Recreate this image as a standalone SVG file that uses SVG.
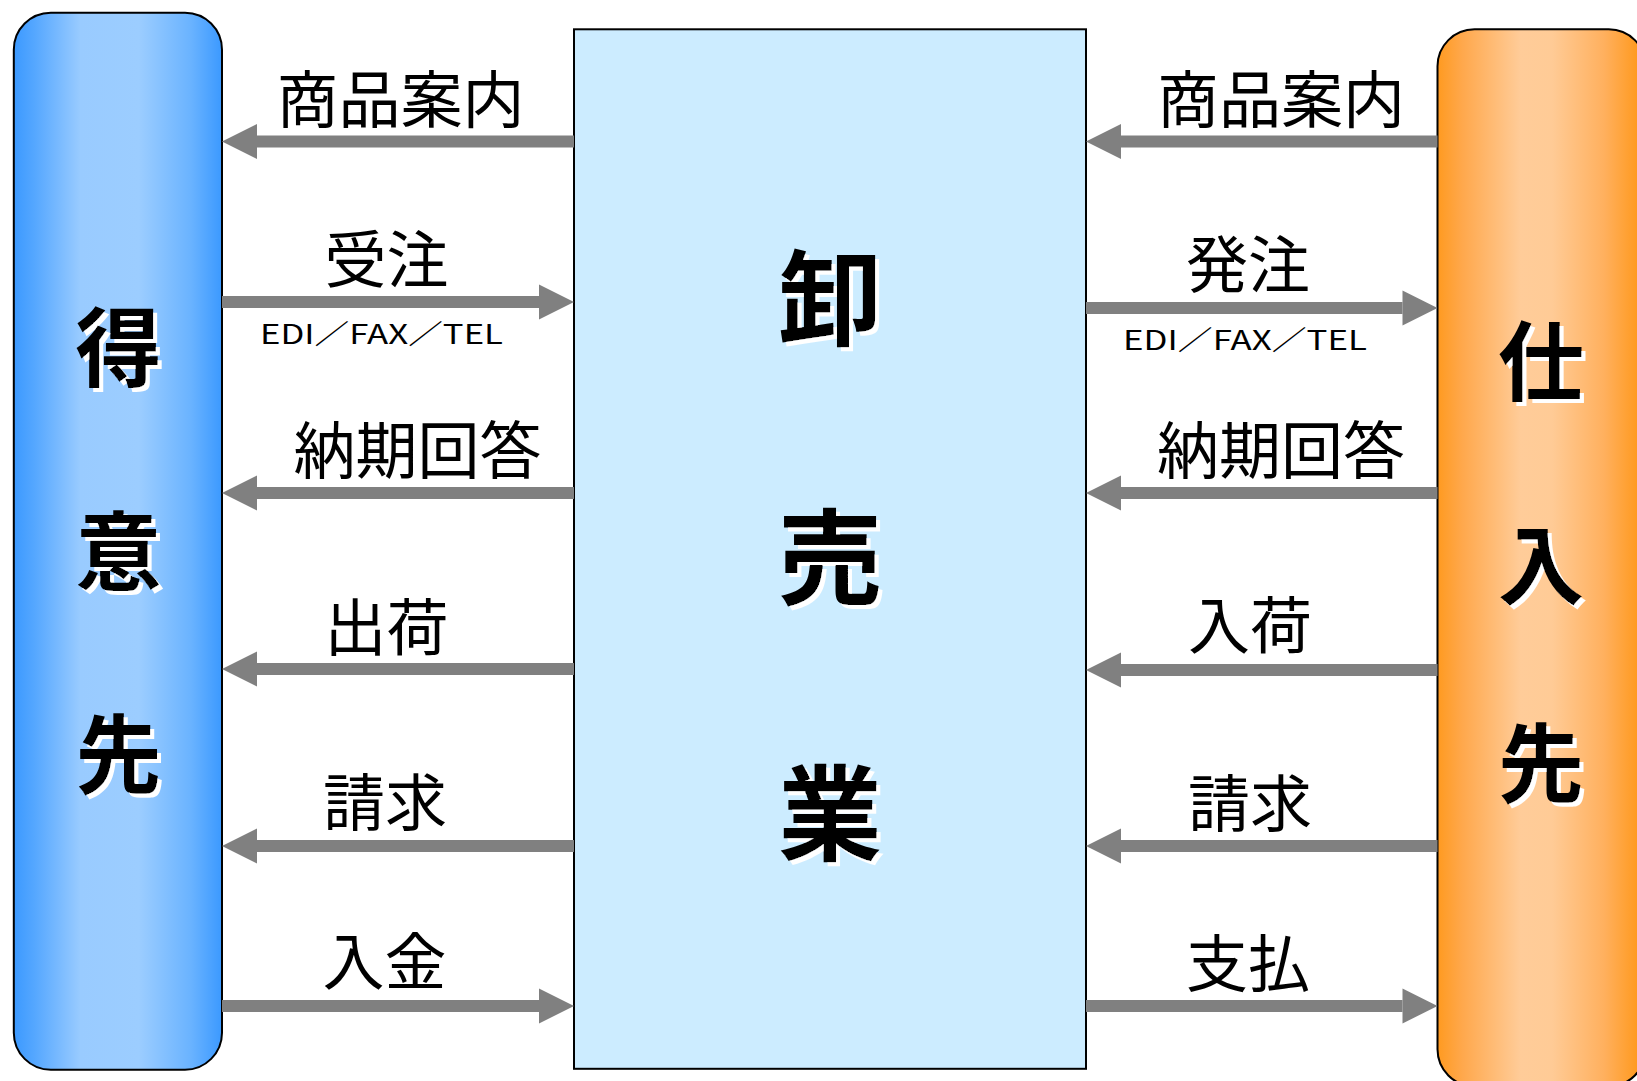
<svg xmlns="http://www.w3.org/2000/svg" width="1637" height="1081" viewBox="0 0 1637 1081">
  <style>
    .node { stroke: #000; stroke-width: 2; }
    .lbl { font-family: "Noto Sans CJK JP", "Liberation Sans", sans-serif; font-size: 62px; fill: #000; text-anchor: middle; }
    .sub { font-family: "Noto Sans CJK JP", "Liberation Sans", sans-serif; font-size: 27px; fill: #000; text-anchor: middle; }
    .big { font-family: "Noto Sans CJK JP", "Liberation Sans", sans-serif; font-size: 86px; font-weight: bold; text-anchor: middle; fill: #000; filter: url(#wshadow); }
    .huge { font-size: 104px; }
    .conn line { stroke: #808080; stroke-width: 12; }
  </style>
  <defs>
    <filter id="wshadow" x="-20%" y="-20%" width="140%" height="140%">
      <feOffset in="SourceAlpha" dx="3.5" dy="3.5" result="off"/>
      <feFlood flood-color="#ffffff" result="white"/>
      <feComposite in="white" in2="off" operator="in" result="shadow"/>
      <feMerge>
        <feMergeNode in="shadow"/>
        <feMergeNode in="SourceGraphic"/>
      </feMerge>
    </filter>
    <linearGradient id="gBlue" x1="0" y1="0" x2="1" y2="0">
      <stop offset="0" stop-color="#3b99ff"/>
      <stop offset="0.1" stop-color="#55a7ff"/>
      <stop offset="0.32" stop-color="#99cbff"/>
      <stop offset="0.6" stop-color="#9ccdff"/>
      <stop offset="0.85" stop-color="#6ab3ff"/>
      <stop offset="1" stop-color="#3b99ff"/>
    </linearGradient>
    <linearGradient id="gOrange" x1="0" y1="0" x2="1" y2="0">
      <stop offset="0" stop-color="#ff9a20"/>
      <stop offset="0.12" stop-color="#ffa84c"/>
      <stop offset="0.4" stop-color="#ffcc99"/>
      <stop offset="0.55" stop-color="#ffcb96"/>
      <stop offset="0.8" stop-color="#ffb05e"/>
      <stop offset="0.96" stop-color="#ff9a20"/>
      <stop offset="1" stop-color="#ff9a20"/>
    </linearGradient>
    <marker id="ah" markerUnits="userSpaceOnUse" markerWidth="36" markerHeight="36" refX="0" refY="17.5" orient="auto" overflow="visible">
      <path d="M0,0 L35,17.5 L0,35 Z" fill="#808080"/>
    </marker>
  </defs>

  <g id="node-tokuisaki">
    <rect class="node" x="13.8" y="12.7" width="208.2" height="1057" rx="37" ry="37" fill="url(#gBlue)"/>
    <text class="big" x="118.5" y="380">得</text>
    <text class="big" x="118.5" y="584">意</text>
    <text class="big" x="118.5" y="787">先</text>
  </g>

  <g id="node-oroshiuri">
    <rect class="node" x="574" y="29.3" width="512" height="1039.5" fill="#ccecff" stroke-width="1.8"/>
    <text class="big huge" x="830" y="338">卸</text>
    <text class="big huge" x="830" y="597">売</text>
    <text class="big huge" x="830" y="853">業</text>
  </g>

  <g id="node-shiiresaki">
    <rect class="node" x="1437.5" y="29.3" width="208.2" height="1057" rx="37" ry="37" fill="url(#gOrange)"/>
    <text class="big" x="1541" y="394">仕</text>
    <text class="big" x="1541" y="598">入</text>
    <text class="big" x="1541" y="796">先</text>
  </g>

  <g id="connectors" class="conn">
    <line x1="574" y1="141.5" x2="257" y2="141.5" marker-end="url(#ah)"/>
    <line x1="222" y1="302" x2="539" y2="302" marker-end="url(#ah)"/>
    <line x1="574" y1="493" x2="257" y2="493" marker-end="url(#ah)"/>
    <line x1="574" y1="669" x2="257" y2="669" marker-end="url(#ah)"/>
    <line x1="574" y1="846" x2="257" y2="846" marker-end="url(#ah)"/>
    <line x1="222" y1="1006" x2="539" y2="1006" marker-end="url(#ah)"/>

    <line x1="1437.5" y1="141.5" x2="1121" y2="141.5" marker-end="url(#ah)"/>
    <line x1="1086" y1="308" x2="1402.5" y2="308" marker-end="url(#ah)"/>
    <line x1="1437.5" y1="493" x2="1121" y2="493" marker-end="url(#ah)"/>
    <line x1="1437.5" y1="670" x2="1121" y2="670" marker-end="url(#ah)"/>
    <line x1="1437.5" y1="846" x2="1121" y2="846" marker-end="url(#ah)"/>
    <line x1="1086" y1="1006" x2="1402.5" y2="1006" marker-end="url(#ah)"/>
  </g>

  <g id="labels">
    <text class="lbl" x="400.5" y="123">商品案内</text>
    <text class="lbl" x="386.5" y="283">受注</text>
    <text class="sub" x="381.5" y="344" textLength="243" lengthAdjust="spacingAndGlyphs">EDI／FAX／TEL</text>
    <text class="lbl" x="417.5" y="474">納期回答</text>
    <text class="lbl" x="386.5" y="651">出荷</text>
    <text class="lbl" x="385" y="826">請求</text>
    <text class="lbl" x="384.5" y="985">入金</text>

    <text class="lbl" x="1281" y="123">商品案内</text>
    <text class="lbl" x="1248" y="288">発注</text>
    <text class="sub" x="1245" y="350" textLength="244" lengthAdjust="spacingAndGlyphs">EDI／FAX／TEL</text>
    <text class="lbl" x="1281" y="474">納期回答</text>
    <text class="lbl" x="1250" y="649">入荷</text>
    <text class="lbl" x="1250" y="827">請求</text>
    <text class="lbl" x="1248" y="987">支払</text>
  </g>
</svg>
